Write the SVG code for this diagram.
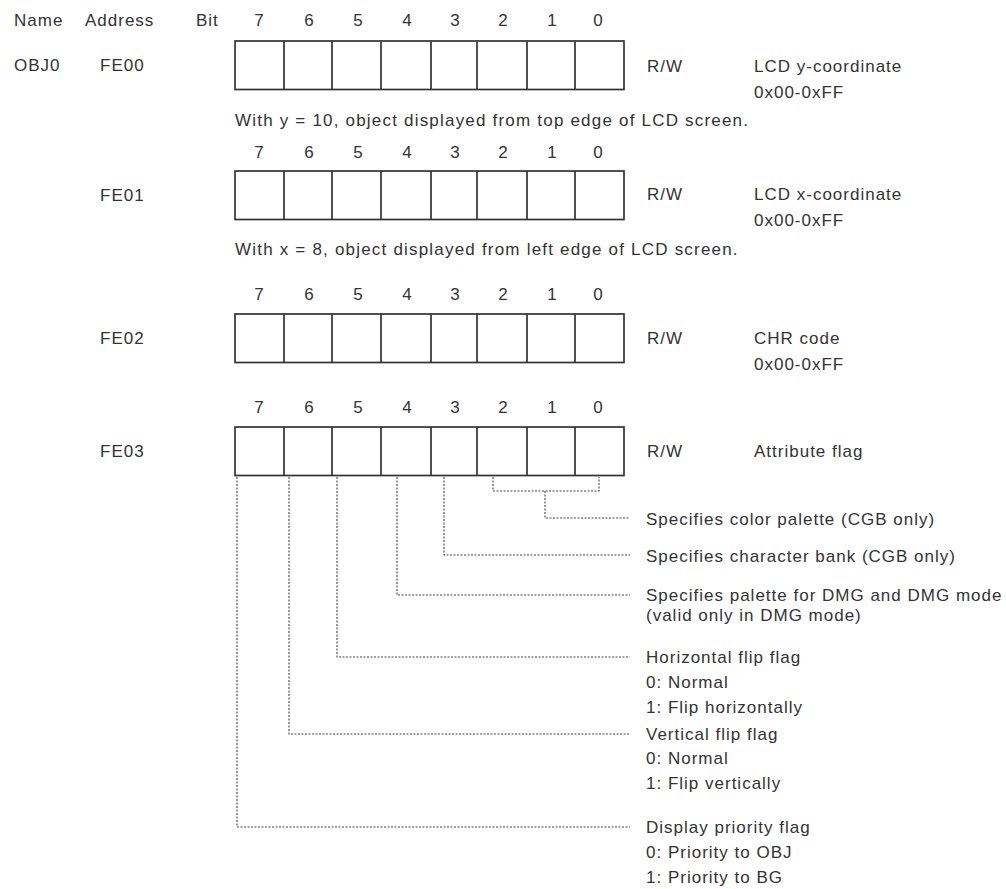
<svg xmlns="http://www.w3.org/2000/svg" xmlns:xlink="http://www.w3.org/1999/xlink" width="1006" height="889" viewBox="0 0 1006 889">
<style>
.t{font-family:"Liberation Sans",Arial,sans-serif;font-size:17px;letter-spacing:1px;fill:#333}
.w{letter-spacing:1.2px}
.n{font-family:"Liberation Sans",Arial,sans-serif;font-size:17px;fill:#333;text-anchor:middle}
.box{fill:#fff;stroke:#333;stroke-width:1.7}
.c{fill:none;stroke:#444;stroke-width:1.1;stroke-dasharray:2 1.5}
</style>
<defs>
<g id="reg">
<rect class="box" x="235" y="0" width="389" height="48.5"/>
<path class="box" d="M284,0V48.5M332,0V48.5M381,0V48.5M431,0V48.5M477,0V48.5M527,0V48.5M575,0V48.5"/>
</g>
<g id="bits">
<text class="n" x="259" y="0">7</text>
<text class="n" x="309" y="0">6</text>
<text class="n" x="358" y="0">5</text>
<text class="n" x="407" y="0">4</text>
<text class="n" x="455" y="0">3</text>
<text class="n" x="503" y="0">2</text>
<text class="n" x="552" y="0">1</text>
<text class="n" x="598" y="0">0</text>
</g>
</defs>
<rect width="1006" height="889" fill="#fff"/>
<g id="header">
<text class="t" x="14" y="26">Name</text>
<text class="t" x="85" y="26">Address</text>
<text class="t" x="196" y="26">Bit</text>
</g>
<g id="fe00">
<text class="t" x="14" y="71">OBJ0</text>
<text class="t" x="100" y="71">FE00</text>
<use xlink:href="#bits" y="26"/>
<use xlink:href="#reg" y="41"/>
<text class="t" x="647" y="72">R/W</text>
<text class="t" x="754" y="72">LCD y-coordinate</text>
<text class="t" x="754" y="98">0x00-0xFF</text>
<text class="t w" x="235" y="126">With y = 10, object displayed from top edge of LCD screen.</text>
</g>
<g id="fe01">
<text class="t" x="100" y="201">FE01</text>
<use xlink:href="#bits" y="158"/>
<use xlink:href="#reg" y="171"/>
<text class="t" x="647" y="200">R/W</text>
<text class="t" x="754" y="200">LCD x-coordinate</text>
<text class="t" x="754" y="226">0x00-0xFF</text>
<text class="t w" x="235" y="255">With x = 8, object displayed from left edge of LCD screen.</text>
</g>
<g id="fe02">
<text class="t" x="100" y="344">FE02</text>
<use xlink:href="#bits" y="300"/>
<use xlink:href="#reg" y="314"/>
<text class="t" x="647" y="344">R/W</text>
<text class="t" x="754" y="344">CHR code</text>
<text class="t" x="754" y="370">0x00-0xFF</text>
</g>
<g id="fe03">
<text class="t" x="100" y="457">FE03</text>
<use xlink:href="#bits" y="413"/>
<use xlink:href="#reg" y="427"/>
<text class="t" x="647" y="457">R/W</text>
<text class="t" x="754" y="457">Attribute flag</text>
</g>
<g id="connectors">
<path class="c" d="M237,477V827H630"/>
<path class="c" d="M289,477V734H630"/>
<path class="c" d="M337,477V657H630"/>
<path class="c" d="M397,477V595H630"/>
<path class="c" d="M444,477V555H630"/>
<path class="c" d="M493,477V491H599V477"/>
<path class="c" d="M545,491V518H630"/>
</g>
<g id="desc-color">
<text class="t" x="646" y="525">Specifies color palette (CGB only)</text>
</g>
<g id="desc-bank">
<text class="t" x="646" y="562">Specifies character bank (CGB only)</text>
</g>
<g id="desc-dmg">
<text class="t" x="646" y="601">Specifies palette for DMG and DMG mode</text>
<text class="t" x="646" y="621">(valid only in DMG mode)</text>
</g>
<g id="desc-hflip">
<text class="t" x="646" y="663">Horizontal flip flag</text>
<text class="t" x="646" y="688">0: Normal</text>
<text class="t" x="646" y="713">1: Flip horizontally</text>
</g>
<g id="desc-vflip">
<text class="t" x="646" y="740">Vertical flip flag</text>
<text class="t" x="646" y="764">0: Normal</text>
<text class="t" x="646" y="789">1: Flip vertically</text>
</g>
<g id="desc-priority">
<text class="t" x="646" y="833">Display priority flag</text>
<text class="t" x="646" y="858">0: Priority to OBJ</text>
<text class="t" x="646" y="883">1: Priority to BG</text>
</g>
</svg>
